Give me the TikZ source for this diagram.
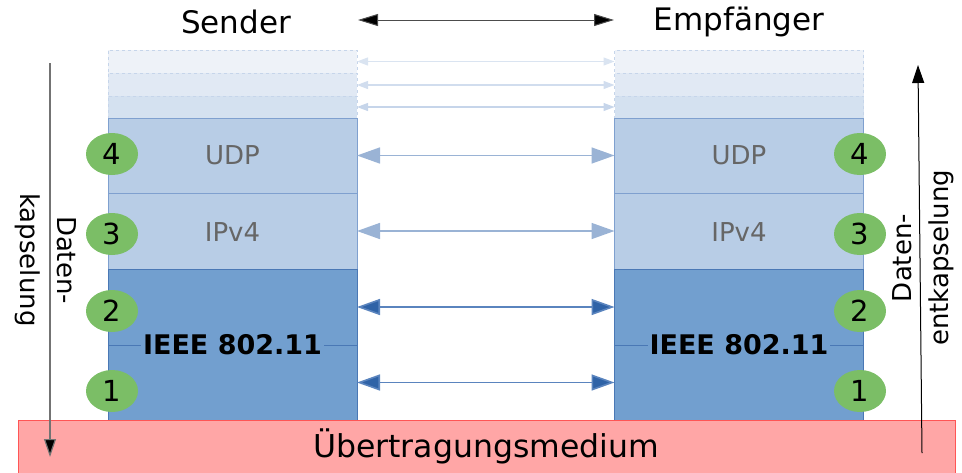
\documentclass[tikz,border=0pt]{standalone}
\usepackage{fontspec}
\setmainfont{DejaVu Sans}
\usetikzlibrary{arrows.meta,shapes.geometric}
\definecolor{lightfill}{HTML}{B8CDE6}
\definecolor{darkfill}{HTML}{729FCF}
\definecolor{lightedge}{HTML}{7FA0CF}
\definecolor{darkedge}{HTML}{4A78B5}
\definecolor{fadeA}{HTML}{EEF2F8}
\definecolor{fadeB}{HTML}{E1E9F4}
\definecolor{fadeC}{HTML}{D4E1F0}
\definecolor{fadeedge}{HTML}{C6D5EA}
\definecolor{greenc}{HTML}{7BBE66}
\definecolor{redfill}{HTML}{FFA6A6}
\definecolor{rededge}{HTML}{FF5555}
\definecolor{arrlight}{HTML}{9AB3D5}
\definecolor{arrdark}{HTML}{2F63A7}
\definecolor{arrdarkline}{HTML}{5A84BE}
\definecolor{labgray}{HTML}{666666}
\tikzset{
  layerbox/.style={draw=lightedge, fill=lightfill, line width=0.8pt, minimum width=249pt, inner sep=0pt, outer sep=0pt},
  darkbox/.style={draw=darkedge, fill=darkfill, line width=0.8pt, minimum width=249pt, inner sep=0pt, outer sep=0pt},
  fadebox/.style={draw=fadeedge, dashed, line width=0.6pt, minimum width=249pt, minimum height=23pt, inner sep=0pt, outer sep=0pt},
  layertext/.style={font=\fontsize{26}{30}\selectfont, text=labgray},
  ieeetext/.style={font=\fontsize{27}{30}\selectfont\bfseries, fill=darkfill, inner sep=2pt},
  numcirc/.style={ellipse, fill=greenc, minimum width=52pt, minimum height=42pt, inner sep=0pt, font=\fontsize{29}{32}\selectfont},
  fadearrow/.style={line width=1.2pt, {Triangle[length=11pt,width=8pt]}-{Triangle[length=11pt,width=8pt]}},
  lightarrow/.style={draw=arrlight, line width=1.6pt, {Triangle[length=23pt,width=16pt]}-{Triangle[length=23pt,width=16pt]}},
  darkarrow/.style={draw=arrdarkline, line width=1.6pt, {Triangle[length=23pt,width=16pt,fill=arrdark]}-{Triangle[length=23pt,width=16pt,fill=arrdark]}},
  titletext/.style={font=\fontsize{31}{34}\selectfont},
  sidetext/.style={font=\fontsize{26}{37}\selectfont, align=center, inner sep=0pt}
}
\begin{document}
\begin{tikzpicture}[x=1pt,y=-1pt]
\useasboundingbox (0,0) rectangle (962,472);
% stacks
\foreach \side/\cx in {L/232.5,R/739} {
  \node[fadebox, fill=fadeA] (\side F1) at (\cx,61.5) {};
  \node[fadebox, fill=fadeB] (\side F2) at (\cx,84.5) {};
  \node[fadebox, fill=fadeC, minimum height=22pt] (\side F3) at (\cx,107) {};
  \node[layerbox, minimum height=75pt] (\side 4) at (\cx,155.5) {};
  \node[layerbox, minimum height=76pt] (\side 3) at (\cx,231) {};
  \node[darkbox, minimum height=76pt] (\side 2) at (\cx,307) {};
  \node[darkbox, minimum height=75pt] (\side 1) at (\cx,382.5) {};
  \node[layertext] (\side udp) at (\cx,155) {UDP};
  \node[layertext] (\side ip) at (\cx,232) {IPv4};
  \node[ieeetext] (\side ieee) at (\cx,345) {IEEE 802.11};
}
% circles
\foreach \n/\y in {4/154,3/234,2/311,1/391} {
  \node[numcirc] (cl\n) at (112,\y) {\n};
  \node[numcirc] (cr\n) at (860,\y) {\n};
}
% faded arrows
\draw[fadearrow, draw=fadeA!50!fadeedge, fill=fadeB] (LF1.east) -- (RF1.west);
\draw[fadearrow, draw=fadeB!40!fadeedge, fill=fadeC] ([yshift=-0.5pt]LF2.east) -- ([yshift=-0.5pt]RF2.west);
\draw[fadearrow, draw=fadeedge, fill=fadeedge!85!black!10!fadeedge] (LF3.east) -- (RF3.west);
% protocol arrows
\draw[lightarrow, fill=arrlight] (L4.east) -- (R4.west);
\draw[lightarrow, fill=arrlight] (L3.east) -- (R3.west);
\draw[darkarrow] (L2.east) -- (R2.west);
\draw[darkarrow] (L1.east) -- (R1.west);
% titles
\node[titletext] (sender) at (236,22) {Sender};
\node[titletext] (empf) at (739,22) {Empfänger};
\coordinate (ta) at (358,20);
\coordinate (tb) at (614,20);
\draw[line width=1pt, draw=black!70, {Triangle[length=20pt,width=12pt,fill=black]}-{Triangle[length=20pt,width=12pt,fill=black]}] (ta) -- (tb);
% medium
\node[draw=rededge, fill=redfill, line width=0.8pt, minimum width=937pt, minimum height=56pt, inner sep=0pt, anchor=north west] (medium) at (17.5,420) {};
\node[font=\fontsize{31.5}{34}\selectfont] (mediumtext) at (486,446) {Übertragungsmedium};
% side arrows
\coordinate (lt) at (50,63);
\coordinate (lb) at (50,457);
\draw[draw=black!55, line width=1.2pt, -{Triangle[length=18pt,width=12pt,fill=black]}] (lt) -- (lb);
\coordinate (rb) at (922,453);
\coordinate (rt) at (918,65);
\draw[line width=1pt, -{Triangle[length=18pt,width=12pt,fill=black]}] (rb) -- (rt);
\node[sidetext, rotate=-90] (lefttext) at (46,260) {Daten-\\kapselung};
\node[sidetext, rotate=90] (righttext) at (923,258) {Daten-\\entkapselung};
\end{tikzpicture}
\end{document}
